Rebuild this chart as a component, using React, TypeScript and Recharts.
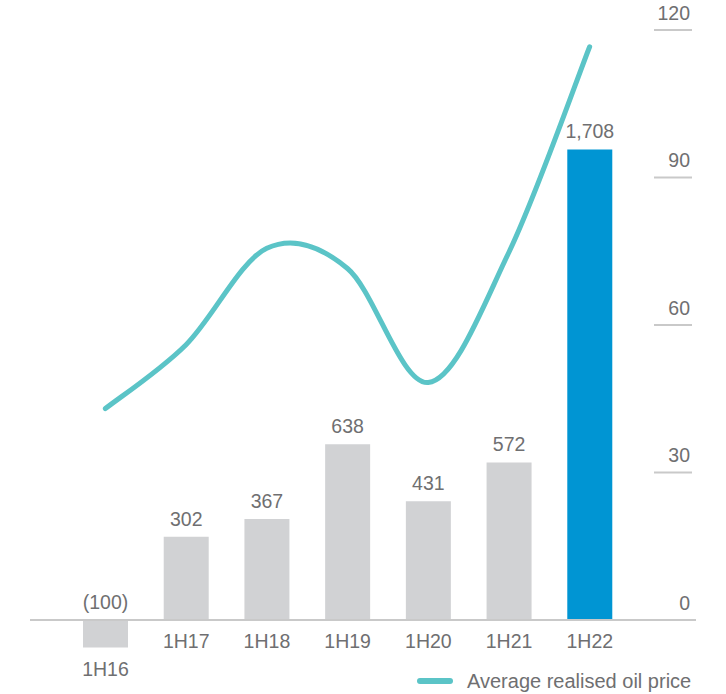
import React from 'react';
import { ComposedChart, Bar, Line, XAxis, YAxis, Cell, LabelList, ReferenceLine, Legend } from 'recharts';

const periods = ['1H16', '1H17', '1H18', '1H19', '1H20', '1H21', '1H22'];
const earnings = [-100, 302, 367, 638, 431, 572, 1708];
const oilPrice = [43, 56, 75.6, 71.5, 48.3, 74.8, 116.6];
const priceTicks = [0, 30, 60, 90, 120];

const data = periods.map((period, i) => ({
  period,
  earnings: earnings[i],
  oilPrice: oilPrice[i],
}));

const FONT = '"Liberation Sans", Arial, sans-serif';
const TEXT = '#6f6f71';
const GRAY = '#d1d2d4';
const BLUE = '#0095d3';
const TEAL = '#5bc4c7';
const RULE = '#c9c9c9';

const fmt = (v: number) => (v < 0 ? `(${Math.abs(v).toLocaleString('en-US')})` : v.toLocaleString('en-US'));

// smoothed line like office charts (catmull-rom style bezier)
const smoothCurve = (context: any) => {
  let pts: number[][] = [];
  return {
    areaStart() {},
    areaEnd() {},
    lineStart() {
      pts = [];
    },
    lineEnd() {
      const n = pts.length;
      if (!n) return;
      context.moveTo(pts[0][0], pts[0][1]);
      for (let i = 0; i < n - 1; i++) {
        const p0 = pts[Math.max(i - 1, 0)];
        const p1 = pts[i];
        const p2 = pts[i + 1];
        const p3 = pts[Math.min(i + 2, n - 1)];
        context.bezierCurveTo(
          p1[0] + (p2[0] - p0[0]) / 6,
          p1[1] + (p2[1] - p0[1]) / 6,
          p2[0] - (p3[0] - p1[0]) / 6,
          p2[1] - (p3[1] - p1[1]) / 6,
          p2[0],
          p2[1]
        );
      }
    },
    point(x: number, y: number) {
      pts.push([+x, +y]);
    },
  };
};

// label above the top of the bar (or above the zero line for negatives)
const ValueLabel = (props: any) => {
  const vb = props.viewBox ?? props;
  const { x, y, width, height } = vb;
  const top = Math.min(y, y + height);
  return (
    <text x={x + width / 2} y={top - 11} textAnchor="middle" fill={TEXT} fontSize={19.5} fontFamily={FONT}>
      {fmt(Number(props.value))}
    </text>
  );
};

// category name under the bar, or under the zero line
const CategoryLabel = (props: any) => {
  const vb = props.viewBox ?? props;
  const { x, y, width, height } = vb;
  const bottom = Math.max(y, y + height);
  return (
    <text x={x + width / 2} y={bottom + 28} textAnchor="middle" fill={TEXT} fontSize={19.5} fontFamily={FONT}>
      {props.value}
    </text>
  );
};

const PriceTick = (props: any) => {
  const { x, y, payload } = props;
  return (
    <g>
      <line x1={x - 42} x2={x - 4} y1={y} y2={y} stroke={RULE} strokeWidth={2} />
      <text x={x - 6} y={y - 10} textAnchor="end" fill={TEXT} fontSize={19.5} fontFamily={FONT}>
        {payload.value}
      </text>
    </g>
  );
};

const LegendContent = () => (
  <div style={{ display: 'flex', alignItems: 'center', height: 24, fontFamily: FONT, fontSize: 20, color: TEXT }}>
    <span style={{ display: 'inline-block', width: 36, height: 6, borderRadius: 3, background: TEAL, marginRight: 14 }} />
    <span>Average realised oil price</span>
  </div>
);

export default function App() {
  return (
    <div style={{ position: 'absolute', left: 0, top: 0, width: 726, height: 694, background: '#fff' }}>
      <ComposedChart width={726} height={694} data={data} margin={{ top: 30, right: 29, bottom: 34, left: 30 }}>
        <XAxis dataKey="period" hide height={0} padding={{ left: 35, right: 66 }} />
        <YAxis yAxisId="earn" hide width={0} type="number" domain={[-145.2, 2141.6]} />
        <YAxis
          yAxisId="price"
          orientation="right"
          width={1}
          type="number"
          domain={[-8.136, 120]}
          ticks={priceTicks}
          tick={<PriceTick />}
          tickLine={false}
          axisLine={false}
          tickSize={0}
          tickMargin={0}
          interval={0}
        />
        <ReferenceLine yAxisId="earn" y={0} stroke={RULE} strokeWidth={2} />
        <Bar yAxisId="earn" dataKey="earnings" barSize={45} isAnimationActive={false}>
          {data.map((d, i) => (
            <Cell key={`c-${i}`} fill={i === data.length - 1 ? BLUE : GRAY} />
          ))}
          <LabelList dataKey="earnings" content={<ValueLabel />} />
          <LabelList dataKey="period" content={<CategoryLabel />} />
        </Bar>
        <Line
          yAxisId="price"
          dataKey="oilPrice"
          type={smoothCurve as any}
          stroke={TEAL}
          strokeWidth={5}
          strokeLinecap="round"
          dot={false}
          activeDot={false}
          isAnimationActive={false}
        />
        <Legend
          layout="horizontal"
          verticalAlign="middle"
          align="center"
          content={<LegendContent />}
          wrapperStyle={{ top: 669, left: 417, width: 300, height: 24 }}
        />
      </ComposedChart>
    </div>
  );
}
